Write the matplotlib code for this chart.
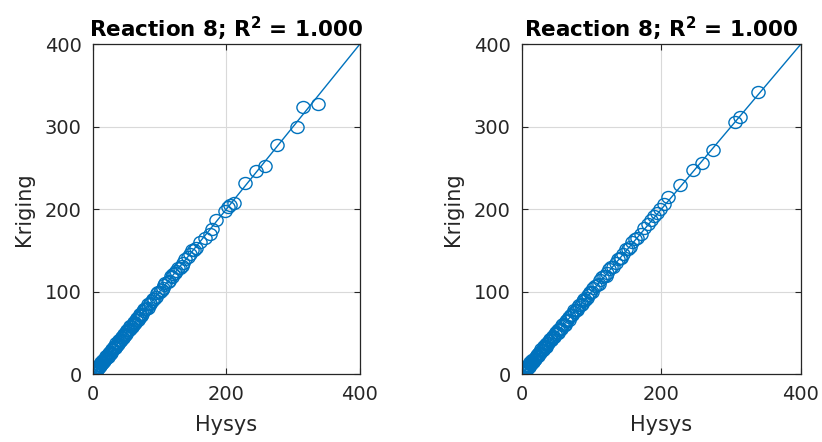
import matplotlib
matplotlib.use("Agg")
import matplotlib.pyplot as plt
from matplotlib.path import Path
from matplotlib.transforms import Affine2D

plt.rcParams['font.family'] = ['DejaVu Sans']
plt.rcParams['mathtext.fontset'] = 'dejavusans'

title_text = "Reaction 8; R$^\\mathbf{2}$ = 1.000"
x_label = "Hysys"
y_label = "Kriging"
x_ticks = [0, 200, 400]
y_ticks = [0, 100, 200, 300, 400]

# Left panel: Hysys vs Kriging
hysys_a = [337, 315, 305, 275, 258, 245, 228, 212, 206, 202, 198, 185, 178, 175,
           168, 160, 152, 145, 135, 130, 125, 120, 118, 112, 108, 105, 100, 96,
           92, 88, 85, 82, 78, 75, 72, 70, 67, 64, 62, 60, 57, 55, 53, 50, 48,
           46, 44, 42, 40, 38, 36, 34, 32, 30, 28, 26, 25, 23, 21, 20, 18, 16,
           15, 13, 12, 10, 9, 8, 7, 6, 5, 4, 3, 2, 2, 1,
           3, 5, 6, 8, 9, 11, 12, 14, 15, 17, 19, 20, 22, 24, 25, 27, 29, 31,
           33, 35, 37, 39, 41, 43, 45, 47, 49, 51, 54, 56, 58, 61, 63, 66, 69,
           71, 74, 77, 80, 83, 86, 90, 94, 98, 103, 107, 114, 117, 123, 127,
           133, 138, 143, 148, 155]
kriging_a = [327, 324, 300, 277, 252, 246, 231, 207, 205, 203, 198, 187, 176, 170,
             165, 160, 150, 145, 135, 128, 125, 121, 117, 112, 110, 104, 100, 98,
             91, 88, 86, 80, 79, 76, 70, 71, 66, 65, 61, 60, 58, 54, 53, 51, 47,
             46, 45, 41, 40, 39, 35, 34, 33, 30, 29, 26, 24, 23, 22, 19, 18, 17,
             14, 13, 12, 11, 9, 8, 7, 6, 5, 4, 3, 3, 2, 1,
             5, 4, 8, 7, 11, 10, 14, 13, 17, 16, 20, 22, 21, 25, 27, 26, 30, 33,
             32, 37, 36, 41, 40, 45, 44, 49, 48, 53, 53, 58, 57, 63, 62, 68, 68,
             73, 73, 79, 79, 85, 85, 91, 93, 99, 102, 108, 113, 119, 122, 128,
             131, 140, 142, 150, 153]

# Right panel: Hysys vs Kriging
hysys_b = [338, 313, 305, 274, 258, 245, 226, 210, 203, 198, 190, 185, 175, 165,
           158, 152, 145, 140, 135, 128, 122, 118, 112, 108, 102, 98, 95, 90,
           87, 84, 80, 77, 74, 71, 68, 65, 63, 60, 58, 55, 52, 50, 48, 45, 43,
           41, 39, 37, 35, 33, 31, 29, 27, 25, 23, 22, 20, 18, 17, 15, 14, 12,
           11, 10, 9, 8, 7, 6, 5, 4, 3, 2, 2, 1,
           2, 4, 6, 7, 9, 10, 12, 13, 15, 16, 18, 19, 21, 23, 24, 26, 28, 30,
           32, 34, 36, 38, 40, 42, 44, 46, 49, 51, 53, 56, 59, 61, 64, 67, 70,
           72, 75, 79, 82, 86, 89, 93, 97, 100, 105, 110, 115, 120, 125, 131,
           137, 142, 149, 155, 162, 171, 180, 193]
kriging_b = [342, 312, 305, 271, 256, 247, 229, 215, 206, 200, 192, 187, 177, 165,
             160, 152, 146, 141, 134, 130, 122, 119, 114, 108, 104, 98, 96, 90,
             88, 84, 81, 77, 75, 71, 69, 65, 64, 60, 59, 55, 53, 50, 49, 45, 44,
             41, 40, 37, 36, 33, 32, 29, 28, 25, 24, 22, 21, 18, 17, 15, 15, 12,
             12, 10, 9, 8, 7, 6, 5, 4, 3, 3, 2, 1,
             4, 3, 8, 6, 11, 9, 14, 12, 17, 15, 20, 18, 23, 22, 26, 25, 30, 29,
             34, 33, 38, 37, 42, 41, 46, 45, 51, 50, 55, 55, 61, 60, 66, 66, 72,
             71, 77, 78, 84, 85, 91, 92, 99, 99, 107, 109, 117, 119, 127, 130,
             139, 141, 151, 154, 164, 170, 182, 195]

ref_line = [0, 400]

blue = "#0072BD"
dark = "#262626"

# slightly wide open-circle marker
ring = Path.unit_circle().transformed(Affine2D().scale(1.1, 1.0))

fig = plt.figure(figsize=(8.22, 4.42), dpi=100)
positions = [[0.1131, 0.1538, 0.3248, 0.7466],
             [0.6350, 0.1538, 0.3394, 0.7466]]
panels = [(hysys_a, kriging_a), (hysys_b, kriging_b)]

for pos, (xs, ys) in zip(positions, panels):
    ax = fig.add_axes(pos)
    ax.plot(xs, ys, linestyle='none', marker=ring, markersize=9.5,
            markerfacecolor='none', markeredgecolor=blue, markeredgewidth=1.0)
    ax.plot(ref_line, ref_line, color=blue, linewidth=1.0)
    ax.set_xlim(0, 400)
    ax.set_ylim(0, 400)
    ax.set_xticks(x_ticks)
    ax.set_yticks(y_ticks)
    ax.grid(True, color='#d9d9d9', linewidth=0.8)
    ax.set_axisbelow(True)
    ax.tick_params(direction='in', length=4, width=0.8, colors=dark,
                   labelsize=14, top=True, right=True, pad=8)
    for s in ax.spines.values():
        s.set_color(dark)
        s.set_linewidth(0.9)
    ax.set_xlabel(x_label, fontsize=15, color=dark, labelpad=8)
    ax.set_ylabel(y_label, fontsize=15, color=dark, labelpad=8)
    ax.set_title(title_text, fontsize=15.5, fontweight='bold', color='black', pad=5)

fig.savefig("out.png", dpi=100)
